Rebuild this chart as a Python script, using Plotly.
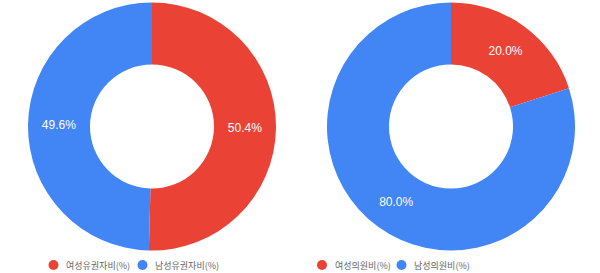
import plotly.graph_objects as go

# data
voter_labels = ["여성유권자비(%)", "남성유권자비(%)"]
voter_values = [50.4, 49.6]
member_labels = ["여성의원비(%)", "남성의원비(%)"]
member_values = [20.0, 80.0]
colors = ["#EA4335", "#4285F4"]

W, H = 600, 273
FONT = "Liberation Sans, Arial, Noto Sans CJK KR, sans-serif"

fig = go.Figure()

def pie(labels, values, cx):
    half = 124
    cy = 126.5
    return go.Pie(
        labels=labels, values=values, hole=0.5, sort=False,
        direction="clockwise", rotation=0,
        marker=dict(colors=colors, line=dict(width=0)),
        texttemplate="%{percent:.1%}", textposition="inside",
        insidetextorientation="horizontal",
        textfont=dict(color="white", size=12, family=FONT),
        domain=dict(x=[(cx - half) / W, (cx + half) / W],
                    y=[max(0, (H - cy - half) / H), min(1, (H - cy + half) / H)]),
        showlegend=False, hoverinfo="label+percent",
    )

fig.add_trace(pie(voter_labels, voter_values, 152))
fig.add_trace(pie(member_labels, member_values, 451))

# legend rows (dot + text), positions in pixels
legend_rows = [
    (voter_labels, [53.5, 142.5]),
    (member_labels, [322, 401.5]),
]
LY = 265
R = 5
shapes, annotations = [], []
for labels, xs in legend_rows:
    for lab, col, x in zip(labels, colors, xs):
        shapes.append(dict(type="circle", xref="paper", yref="paper",
                           x0=(x - R) / W, x1=(x + R) / W,
                           y0=(H - LY - R) / H, y1=(H - LY + R) / H,
                           fillcolor=col, line=dict(width=0)))
        annotations.append(dict(text=lab, xref="paper", yref="paper",
                                x=(x + 10.5) / W, y=(H - LY) / H,
                                xanchor="left", yanchor="middle", showarrow=False,
                                font=dict(family="Noto Sans CJK KR, Liberation Sans, sans-serif",
                                          size=9, color="#666666")))

fig.update_layout(
    width=W, height=H,
    margin=dict(l=0, r=0, t=0, b=0),
    paper_bgcolor="white", plot_bgcolor="white",
    font=dict(family=FONT),
    showlegend=False,
    shapes=shapes, annotations=annotations,
)

fig.write_html("out.html")
